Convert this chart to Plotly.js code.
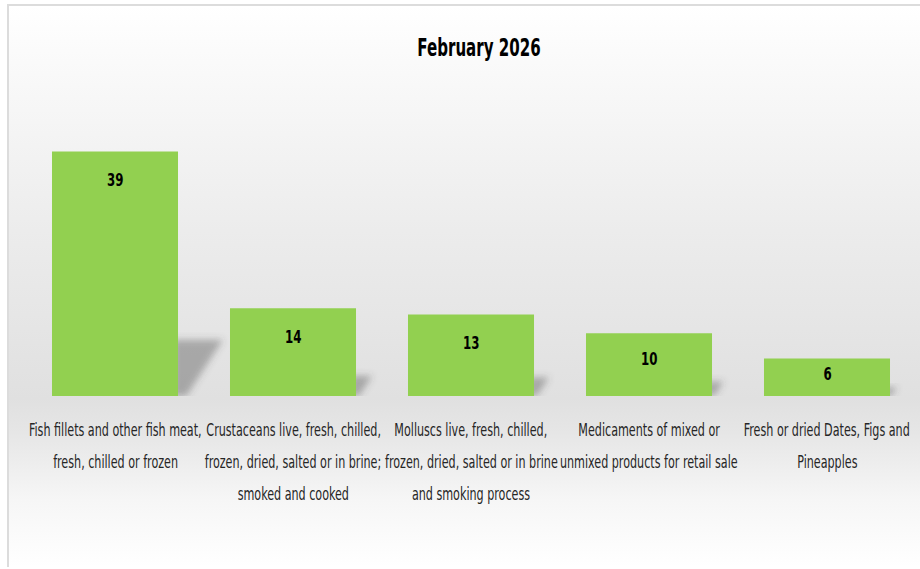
<!DOCTYPE html>
<html>
<head>
<meta charset="utf-8">
<script src="https://cdn.plot.ly/plotly-3.0.1.min.js"></script>
<style>
  html, body { margin: 0; padding: 0; width: 920px; height: 569px; overflow: hidden; background: #ffffff; }
  #frame {
    position: absolute; left: 7px; top: 4px; width: 930px; height: 561px;
    border-top: 2px solid #dcdcdc; border-left: 2px solid #dcdcdc;
    background: linear-gradient(to bottom, #ffffff 0%, #f9f9f9 12%, #ececec 40%, #e0e0e0 70%, #e6e6e6 76%, #f6f6f6 88%, #ffffff 100%);
  }
  #chart { position: absolute; left: 0; top: 0; width: 920px; height: 569px; }
  /* narrow, tall lettering like the reference */
  #chart text.annotation-text {
    transform-box: fill-box; transform-origin: center; transform: scaleX(0.73);
  }
  #chart text.gtitle {
    transform-box: fill-box; transform-origin: center; transform: scaleX(0.67);
  }
  /* soft bar shadows */
  #chart .shapelayer path { filter: url(#softblur); }
</style>
</head>
<body>
<svg width="0" height="0" style="position:absolute">
  <defs>
    <filter id="softblur" x="-50%" y="-50%" width="200%" height="200%">
      <feGaussianBlur stdDeviation="3.5"/>
    </filter>
  </defs>
</svg>
<div id="frame"></div>
<div id="chart"></div>
<script>
const titleText = "February 2026";
const categories = [
  "Fish fillets and other fish meat,<br>fresh, chilled or frozen",
  "Crustaceans live, fresh, chilled,<br>frozen, dried, salted or in brine;<br>smoked and cooked",
  "Molluscs live, fresh, chilled,<br>frozen, dried, salted or in brine<br>and smoking process",
  "Medicaments of mixed or<br>unmixed products for retail sale",
  "Fresh or dried Dates, Figs and<br>Pineapples"
];
const values = [39, 14, 13, 10, 6];

const FONT = "'DejaVu Sans Condensed', 'DejaVu Sans', sans-serif";
const barColor = "#92d050";

// layout geometry
const W = 920, H = 569;
const M = { l: 26, r: 4, t: 114, b: 173 };
const Y_MAX = 45;
const BARGAP = 0.292;
const pxPerY = (H - M.t - M.b) / Y_MAX;
const pxPerX = (W - M.l - M.r) / categories.length;

const annotations = [];
// value labels near the top inside the bars
categories.forEach((c, i) => {
  const barPx = values[i] * pxPerY;
  annotations.push({
    x: c, y: values[i], xref: "x", yref: "y",
    text: String(values[i]), showarrow: false,
    yanchor: "middle", yshift: -Math.min(28, barPx * 0.4),
    font: { family: FONT, size: 18, color: "#000000", weight: 700 }
  });
});
// category labels, one annotation per line for Excel-like line spacing
categories.forEach((c) => {
  c.split("<br>").forEach((line, j) => {
    annotations.push({
      x: c, y: 0, xref: "x", yref: "y",
      text: line, showarrow: false,
      yanchor: "middle", yshift: -34 - 32 * j,
      font: { family: FONT, size: 17, color: "#262626" }
    });
  });
});

// perspective shadows cast to the right of each bar (derived from the values)
const half = (1 - BARGAP) / 2;
const shapes = values.map((v, i) => {
  const edge = i + half;
  const sh = v * 0.23;                         // shadow height in data units
  const dx = (sh * pxPerY * 0.8) / pxPerX;     // horizontal reach in category units
  const inset = (sh * pxPerY * 0.15) / pxPerX;
  return {
    type: "path", layer: "below", xref: "x", yref: "y",
    path: `M ${edge - 0.03} 0 L ${edge - 0.03} ${sh} L ${edge + dx} ${sh} L ${edge + inset} 0 Z`,
    fillcolor: "rgba(70,70,70,0.38)", line: { width: 0 }
  };
});

const data = [{
  type: "bar",
  x: categories,
  y: values,
  marker: { color: barColor, line: { width: 0 } },
  hoverinfo: "x+y"
}];

const layout = {
  width: W, height: H,
  margin: { l: M.l, r: M.r, t: M.t, b: M.b, autoexpand: false },
  paper_bgcolor: "rgba(0,0,0,0)",
  plot_bgcolor: "rgba(0,0,0,0)",
  bargap: BARGAP,
  showlegend: false,
  title: {
    text: titleText,
    x: 0.509, xref: "paper", xanchor: "center",
    y: 0.917, yref: "container", yanchor: "middle",
    font: { family: FONT, size: 25, color: "#000000", weight: 700 }
  },
  xaxis: {
    type: "category", range: [-0.5, categories.length - 0.5], automargin: false,
    showticklabels: false, showgrid: false, zeroline: false, showline: false, ticks: ""
  },
  yaxis: {
    range: [0, Y_MAX], automargin: false,
    showticklabels: false, showgrid: false, zeroline: false, showline: false, ticks: ""
  },
  shapes: shapes,
  annotations: annotations
};

Plotly.newPlot("chart", data, layout, { displayModeBar: false, staticPlot: true });
</script>
</body>
</html>
